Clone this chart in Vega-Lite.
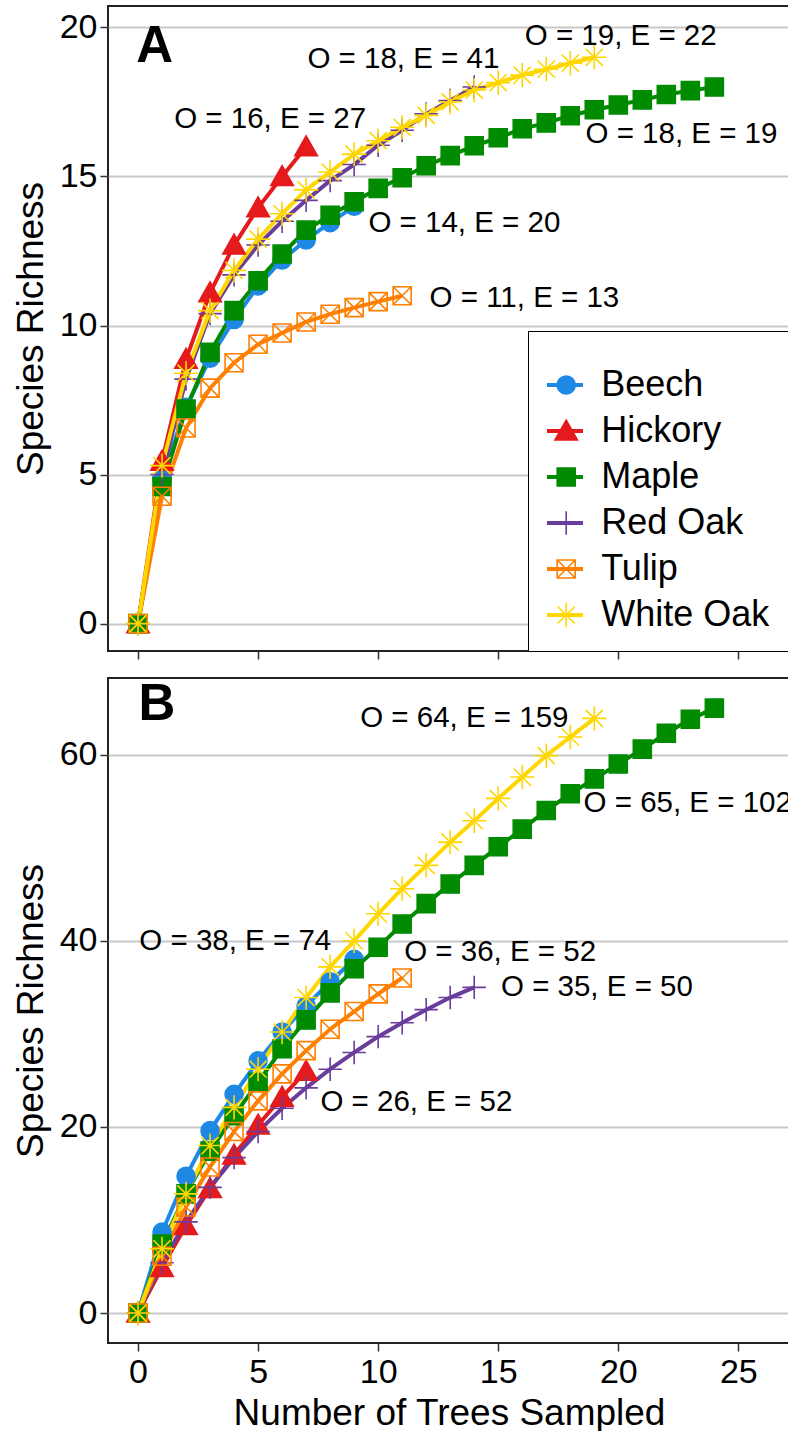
{
  "$schema": "https://vega.github.io/schema/vega-lite/v6.json",
  "padding": {"left": 11, "top": 5, "right": 0, "bottom": 0},
  "spacing": 16,
  "config": {
    "font": "Liberation Sans",
    "view": {"stroke": "#222222", "strokeWidth": 2},
    "axis": {
      "domain": false,
      "tickColor": "#333333",
      "tickWidth": 1.5,
      "tickSize": 8,
      "labelFont": "Liberation Sans",
      "labelFontSize": 34,
      "labelColor": "black",
      "labelPadding": 3,
      "titleFont": "Liberation Sans",
      "titleFontSize": 37,
      "titleFontWeight": "normal",
      "titleColor": "black",
      "gridColor": "#C8C8C8",
      "gridWidth": 2
    },
    "axisY": {"titlePadding": 9},
    "axisX": {"titlePadding": 6, "labelPadding": 4}
  },
  "datasets": {
    "curves": [
      {"panel":"A","species":"Beech","trees":0,"richness":0},
      {"panel":"A","species":"Beech","trees":1,"richness":4.87},
      {"panel":"A","species":"Beech","trees":2,"richness":7.26},
      {"panel":"A","species":"Beech","trees":3,"richness":8.9},
      {"panel":"A","species":"Beech","trees":4,"richness":10.2},
      {"panel":"A","species":"Beech","trees":5,"richness":11.33},
      {"panel":"A","species":"Beech","trees":6,"richness":12.2},
      {"panel":"A","species":"Beech","trees":7,"richness":12.87},
      {"panel":"A","species":"Beech","trees":8,"richness":13.45},
      {"panel":"A","species":"Beech","trees":9,"richness":14.0},
      {"panel":"A","species":"Hickory","trees":0,"richness":0},
      {"panel":"A","species":"Hickory","trees":1,"richness":5.45},
      {"panel":"A","species":"Hickory","trees":2,"richness":8.87},
      {"panel":"A","species":"Hickory","trees":3,"richness":11.1},
      {"panel":"A","species":"Hickory","trees":4,"richness":12.7},
      {"panel":"A","species":"Hickory","trees":5,"richness":13.95},
      {"panel":"A","species":"Hickory","trees":6,"richness":15.0},
      {"panel":"A","species":"Hickory","trees":7,"richness":16.0},
      {"panel":"A","species":"Maple","trees":0,"richness":0},
      {"panel":"A","species":"Maple","trees":1,"richness":4.6},
      {"panel":"A","species":"Maple","trees":2,"richness":7.2},
      {"panel":"A","species":"Maple","trees":3,"richness":9.1},
      {"panel":"A","species":"Maple","trees":4,"richness":10.5},
      {"panel":"A","species":"Maple","trees":5,"richness":11.5},
      {"panel":"A","species":"Maple","trees":6,"richness":12.4},
      {"panel":"A","species":"Maple","trees":7,"richness":13.2},
      {"panel":"A","species":"Maple","trees":8,"richness":13.7},
      {"panel":"A","species":"Maple","trees":9,"richness":14.15},
      {"panel":"A","species":"Maple","trees":10,"richness":14.6},
      {"panel":"A","species":"Maple","trees":11,"richness":14.96},
      {"panel":"A","species":"Maple","trees":12,"richness":15.36},
      {"panel":"A","species":"Maple","trees":13,"richness":15.7},
      {"panel":"A","species":"Maple","trees":14,"richness":16.03},
      {"panel":"A","species":"Maple","trees":15,"richness":16.3},
      {"panel":"A","species":"Maple","trees":16,"richness":16.6},
      {"panel":"A","species":"Maple","trees":17,"richness":16.8},
      {"panel":"A","species":"Maple","trees":18,"richness":17.04},
      {"panel":"A","species":"Maple","trees":19,"richness":17.24},
      {"panel":"A","species":"Maple","trees":20,"richness":17.4},
      {"panel":"A","species":"Maple","trees":21,"richness":17.57},
      {"panel":"A","species":"Maple","trees":22,"richness":17.75},
      {"panel":"A","species":"Maple","trees":23,"richness":17.88},
      {"panel":"A","species":"Maple","trees":24,"richness":18.0},
      {"panel":"A","species":"Red Oak","trees":0,"richness":0},
      {"panel":"A","species":"Red Oak","trees":1,"richness":5.0},
      {"panel":"A","species":"Red Oak","trees":2,"richness":8.2},
      {"panel":"A","species":"Red Oak","trees":3,"richness":10.4},
      {"panel":"A","species":"Red Oak","trees":4,"richness":11.7},
      {"panel":"A","species":"Red Oak","trees":5,"richness":12.7},
      {"panel":"A","species":"Red Oak","trees":6,"richness":13.5},
      {"panel":"A","species":"Red Oak","trees":7,"richness":14.2},
      {"panel":"A","species":"Red Oak","trees":8,"richness":14.86},
      {"panel":"A","species":"Red Oak","trees":9,"richness":15.4},
      {"panel":"A","species":"Red Oak","trees":10,"richness":16.05},
      {"panel":"A","species":"Red Oak","trees":11,"richness":16.55},
      {"panel":"A","species":"Red Oak","trees":12,"richness":17.1},
      {"panel":"A","species":"Red Oak","trees":13,"richness":17.55},
      {"panel":"A","species":"Red Oak","trees":14,"richness":18.0},
      {"panel":"A","species":"Tulip","trees":0,"richness":0},
      {"panel":"A","species":"Tulip","trees":1,"richness":4.27},
      {"panel":"A","species":"Tulip","trees":2,"richness":6.56},
      {"panel":"A","species":"Tulip","trees":3,"richness":7.9},
      {"panel":"A","species":"Tulip","trees":4,"richness":8.75},
      {"panel":"A","species":"Tulip","trees":5,"richness":9.37},
      {"panel":"A","species":"Tulip","trees":6,"richness":9.75},
      {"panel":"A","species":"Tulip","trees":7,"richness":10.12},
      {"panel":"A","species":"Tulip","trees":8,"richness":10.38},
      {"panel":"A","species":"Tulip","trees":9,"richness":10.6},
      {"panel":"A","species":"Tulip","trees":10,"richness":10.8},
      {"panel":"A","species":"Tulip","trees":11,"richness":11.0},
      {"panel":"A","species":"White Oak","trees":0,"richness":0},
      {"panel":"A","species":"White Oak","trees":1,"richness":5.3},
      {"panel":"A","species":"White Oak","trees":2,"richness":8.4},
      {"panel":"A","species":"White Oak","trees":3,"richness":10.5},
      {"panel":"A","species":"White Oak","trees":4,"richness":11.85},
      {"panel":"A","species":"White Oak","trees":5,"richness":12.9},
      {"panel":"A","species":"White Oak","trees":6,"richness":13.75},
      {"panel":"A","species":"White Oak","trees":7,"richness":14.55},
      {"panel":"A","species":"White Oak","trees":8,"richness":15.15},
      {"panel":"A","species":"White Oak","trees":9,"richness":15.75},
      {"panel":"A","species":"White Oak","trees":10,"richness":16.2},
      {"panel":"A","species":"White Oak","trees":11,"richness":16.65},
      {"panel":"A","species":"White Oak","trees":12,"richness":17.05},
      {"panel":"A","species":"White Oak","trees":13,"richness":17.5},
      {"panel":"A","species":"White Oak","trees":14,"richness":17.9},
      {"panel":"A","species":"White Oak","trees":15,"richness":18.15},
      {"panel":"A","species":"White Oak","trees":16,"richness":18.4},
      {"panel":"A","species":"White Oak","trees":17,"richness":18.6},
      {"panel":"A","species":"White Oak","trees":18,"richness":18.8},
      {"panel":"A","species":"White Oak","trees":19,"richness":19.0},
      {"panel":"B","species":"Beech","trees":0,"richness":0},
      {"panel":"B","species":"Beech","trees":1,"richness":8.7},
      {"panel":"B","species":"Beech","trees":2,"richness":14.7},
      {"panel":"B","species":"Beech","trees":3,"richness":19.6},
      {"panel":"B","species":"Beech","trees":4,"richness":23.5},
      {"panel":"B","species":"Beech","trees":5,"richness":27.1},
      {"panel":"B","species":"Beech","trees":6,"richness":30.2},
      {"panel":"B","species":"Beech","trees":7,"richness":33.0},
      {"panel":"B","species":"Beech","trees":8,"richness":35.6},
      {"panel":"B","species":"Beech","trees":9,"richness":38.0},
      {"panel":"B","species":"Hickory","trees":0,"richness":0},
      {"panel":"B","species":"Hickory","trees":1,"richness":4.9},
      {"panel":"B","species":"Hickory","trees":2,"richness":9.4},
      {"panel":"B","species":"Hickory","trees":3,"richness":13.4},
      {"panel":"B","species":"Hickory","trees":4,"richness":17.0},
      {"panel":"B","species":"Hickory","trees":5,"richness":20.2},
      {"panel":"B","species":"Hickory","trees":6,"richness":23.2},
      {"panel":"B","species":"Hickory","trees":7,"richness":26.0},
      {"panel":"B","species":"Maple","trees":0,"richness":0},
      {"panel":"B","species":"Maple","trees":1,"richness":7.4},
      {"panel":"B","species":"Maple","trees":2,"richness":12.8},
      {"panel":"B","species":"Maple","trees":3,"richness":17.4},
      {"panel":"B","species":"Maple","trees":4,"richness":21.2},
      {"panel":"B","species":"Maple","trees":5,"richness":24.8},
      {"panel":"B","species":"Maple","trees":6,"richness":28.4},
      {"panel":"B","species":"Maple","trees":7,"richness":31.5},
      {"panel":"B","species":"Maple","trees":8,"richness":34.4},
      {"panel":"B","species":"Maple","trees":9,"richness":37.0},
      {"panel":"B","species":"Maple","trees":10,"richness":39.3},
      {"panel":"B","species":"Maple","trees":11,"richness":41.8},
      {"panel":"B","species":"Maple","trees":12,"richness":44.0},
      {"panel":"B","species":"Maple","trees":13,"richness":46.1},
      {"panel":"B","species":"Maple","trees":14,"richness":48.1},
      {"panel":"B","species":"Maple","trees":15,"richness":50.1},
      {"panel":"B","species":"Maple","trees":16,"richness":52.0},
      {"panel":"B","species":"Maple","trees":17,"richness":54.0},
      {"panel":"B","species":"Maple","trees":18,"richness":55.8},
      {"panel":"B","species":"Maple","trees":19,"richness":57.4},
      {"panel":"B","species":"Maple","trees":20,"richness":59.0},
      {"panel":"B","species":"Maple","trees":21,"richness":60.6},
      {"panel":"B","species":"Maple","trees":22,"richness":62.3},
      {"panel":"B","species":"Maple","trees":23,"richness":63.8},
      {"panel":"B","species":"Maple","trees":24,"richness":65.0},
      {"panel":"B","species":"Red Oak","trees":0,"richness":0},
      {"panel":"B","species":"Red Oak","trees":1,"richness":5.4},
      {"panel":"B","species":"Red Oak","trees":2,"richness":9.8},
      {"panel":"B","species":"Red Oak","trees":3,"richness":13.5},
      {"panel":"B","species":"Red Oak","trees":4,"richness":16.7},
      {"panel":"B","species":"Red Oak","trees":5,"richness":19.5},
      {"panel":"B","species":"Red Oak","trees":6,"richness":22.0},
      {"panel":"B","species":"Red Oak","trees":7,"richness":24.2},
      {"panel":"B","species":"Red Oak","trees":8,"richness":26.2},
      {"panel":"B","species":"Red Oak","trees":9,"richness":28.0},
      {"panel":"B","species":"Red Oak","trees":10,"richness":29.7},
      {"panel":"B","species":"Red Oak","trees":11,"richness":31.2},
      {"panel":"B","species":"Red Oak","trees":12,"richness":32.6},
      {"panel":"B","species":"Red Oak","trees":13,"richness":33.9},
      {"panel":"B","species":"Red Oak","trees":14,"richness":35.0},
      {"panel":"B","species":"Tulip","trees":0,"richness":0},
      {"panel":"B","species":"Tulip","trees":1,"richness":6.1},
      {"panel":"B","species":"Tulip","trees":2,"richness":11.4},
      {"panel":"B","species":"Tulip","trees":3,"richness":15.7},
      {"panel":"B","species":"Tulip","trees":4,"richness":19.5},
      {"panel":"B","species":"Tulip","trees":5,"richness":22.8},
      {"panel":"B","species":"Tulip","trees":6,"richness":25.7},
      {"panel":"B","species":"Tulip","trees":7,"richness":28.2},
      {"panel":"B","species":"Tulip","trees":8,"richness":30.5},
      {"panel":"B","species":"Tulip","trees":9,"richness":32.4},
      {"panel":"B","species":"Tulip","trees":10,"richness":34.3},
      {"panel":"B","species":"Tulip","trees":11,"richness":36.0},
      {"panel":"B","species":"White Oak","trees":0,"richness":0},
      {"panel":"B","species":"White Oak","trees":1,"richness":6.9},
      {"panel":"B","species":"White Oak","trees":2,"richness":12.8},
      {"panel":"B","species":"White Oak","trees":3,"richness":18.0},
      {"panel":"B","species":"White Oak","trees":4,"richness":22.1},
      {"panel":"B","species":"White Oak","trees":5,"richness":26.2},
      {"panel":"B","species":"White Oak","trees":6,"richness":30.2},
      {"panel":"B","species":"White Oak","trees":7,"richness":33.9},
      {"panel":"B","species":"White Oak","trees":8,"richness":37.2},
      {"panel":"B","species":"White Oak","trees":9,"richness":40.0},
      {"panel":"B","species":"White Oak","trees":10,"richness":42.9},
      {"panel":"B","species":"White Oak","trees":11,"richness":45.6},
      {"panel":"B","species":"White Oak","trees":12,"richness":48.1},
      {"panel":"B","species":"White Oak","trees":13,"richness":50.6},
      {"panel":"B","species":"White Oak","trees":14,"richness":52.9},
      {"panel":"B","species":"White Oak","trees":15,"richness":55.3},
      {"panel":"B","species":"White Oak","trees":16,"richness":57.6},
      {"panel":"B","species":"White Oak","trees":17,"richness":59.9},
      {"panel":"B","species":"White Oak","trees":18,"richness":61.9},
      {"panel":"B","species":"White Oak","trees":19,"richness":63.9}
    ],
    "notes": [
      {"panel":"A","label":"O = 16, E = 27","trees":5.5,"richness":16.93},
      {"panel":"A","label":"O = 18, E = 41","trees":11.05,"richness":18.94},
      {"panel":"A","label":"O = 19, E = 22","trees":20.1,"richness":19.71},
      {"panel":"A","label":"O = 18, E = 19","trees":22.63,"richness":16.43},
      {"panel":"A","label":"O = 14, E = 20","trees":13.59,"richness":13.44},
      {"panel":"A","label":"O = 11, E = 13","trees":16.09,"richness":10.93},
      {"panel":"B","label":"O = 64, E = 159","trees":13.59,"richness":63.94},
      {"panel":"B","label":"O = 65, E = 102","trees":22.89,"richness":54.81},
      {"panel":"B","label":"O = 38, E = 74","trees":4.05,"richness":39.93},
      {"panel":"B","label":"O = 36, E = 52","trees":15.08,"richness":38.85},
      {"panel":"B","label":"O = 35, E = 50","trees":19.11,"richness":35.0},
      {"panel":"B","label":"O = 26, E = 52","trees":11.59,"richness":22.68}
    ],
    "letters": [
      {"panel":"A","letter":"A","trees":0.69,"richness":19.33},
      {"panel":"B","letter":"B","trees":0.79,"richness":65.3}
    ]
  },
  "resolve": {"scale": {"stroke": "independent", "fill": "independent", "shape": "independent"}},
  "vconcat": [
    {
      "width": 682,
      "height": 645,
      "resolve": {"scale": {"stroke": "independent", "fill": "independent", "shape": "independent"}},
      "encoding": {
        "x": {"field": "trees", "type": "quantitative", "scale": {"domain": [-1.25, 27.15], "nice": false, "zero": false},
              "axis": {"values": [0,5,10,15,20,25], "labels": false, "title": null, "grid": false}},
        "y": {"field": "richness", "type": "quantitative", "scale": {"domain": [-0.92, 20.72], "nice": false, "zero": false},
              "axis": {"values": [0,5,10,15,20], "title": "Species Richness", "grid": true}}
      },
      "layer": [
        {
          "data": {"name": "curves"},
          "transform": [{"filter": "datum.panel === 'A'"}],
          "mark": {"type": "line", "strokeWidth": 4},
          "encoding": {
            "stroke": {"field": "species", "type": "nominal",
              "scale": {"domain": ["Beech","Hickory","Maple","Red Oak","Tulip","White Oak"],
                        "range": ["#1E88E5","#E41A1C","#008B00","#6A3D9A","#FF7F00","#FFD700"]},
              "legend": {"orient": "none", "legendX": 420, "legendY": 325, "zindex": 2,
                         "title": "\u00a0", "titleFontSize": 12, "titlePadding": 6,
                         "padding": 18, "symbolType": "M-2,0H2", "symbolSize": 324,
                         "symbolStrokeWidth": 4, "labelFontSize": 36, "labelFont": "Liberation Sans", "labelExpr": "'\u00a0'",
                         "rowPadding": 10, "symbolOffset": 1, "labelOffset": 17}}
          }
        },
        {
          "data": {"name": "curves"},
          "transform": [{"filter": "datum.panel === 'A'"}],
          "mark": {"type": "point", "filled": true, "size": 324, "strokeWidth": 1.6, "opacity": 1},
          "encoding": {
            "stroke": {"field": "species", "type": "nominal",
              "scale": {"domain": ["Beech","Hickory","Maple","Red Oak","Tulip","White Oak"],
                        "range": ["#1E88E5","#E41A1C","#008B00","#6A3D9A","#FF7F00","#FFD700"]},
              "legend": {"orient": "none", "legendX": 420, "legendY": 325, "zindex": 1, "strokeColor": "black", "fillColor": "white",
                         "title": "\u00a0", "titleFontSize": 12, "titlePadding": 6,
                         "padding": 18, "symbolSize": 324, "symbolStrokeWidth": 1.6, "labelFontSize": 36, "labelFont": "Liberation Sans",
                         "labelColor": "black", "labelLimit": 400, "rowPadding": 10, "symbolOffset": 2.2, "labelOffset": 17}},
            "fill": {"field": "species", "type": "nominal",
              "scale": {"domain": ["Beech","Hickory","Maple","Red Oak","Tulip","White Oak"],
                        "range": ["#1E88E5","#E41A1C","#008B00","transparent","transparent","transparent"]},
              "legend": {"orient": "none", "legendX": 420, "legendY": 325, "zindex": 1, "strokeColor": "black", "fillColor": "white",
                         "title": "\u00a0", "titleFontSize": 12, "titlePadding": 6,
                         "padding": 18, "symbolSize": 324, "symbolStrokeWidth": 1.6, "labelFontSize": 36, "labelFont": "Liberation Sans",
                         "labelColor": "black", "labelLimit": 400, "rowPadding": 10, "symbolOffset": 2.2, "labelOffset": 17}},
            "shape": {"field": "species", "type": "nominal",
              "scale": {"domain": ["Beech","Hickory","Maple","Red Oak","Tulip","White Oak"],
                        "range": ["circle","M0,-1.2L1.25,1L-1.25,1Z","square","M-1.3,0H1.3M0,-1.3V1.3","M-1,-1H1V1H-1ZM-1,-1L1,1M1,-1L-1,1","M-1.35,0H1.35M0,-1.35V1.35M-0.95,-0.95L0.95,0.95M0.95,-0.95L-0.95,0.95"]},
              "legend": {"orient": "none", "legendX": 420, "legendY": 325, "zindex": 1, "strokeColor": "black", "fillColor": "white",
                         "title": "\u00a0", "titleFontSize": 12, "titlePadding": 6,
                         "padding": 18, "symbolSize": 324, "symbolStrokeWidth": 1.6, "labelFontSize": 36, "labelFont": "Liberation Sans",
                         "labelColor": "black", "labelLimit": 400, "rowPadding": 10, "symbolOffset": 2.2, "labelOffset": 17}}
          }
        },
        {
          "data": {"name": "notes"},
          "transform": [{"filter": "datum.panel === 'A'"}],
          "mark": {"type": "text", "fontSize": 29.5, "font": "Liberation Sans", "align": "center", "baseline": "middle", "color": "black", "clip": true},
          "encoding": {"text": {"field": "label"}}
        },
        {
          "data": {"name": "letters"},
          "transform": [{"filter": "datum.panel === 'A'"}],
          "mark": {"type": "text", "fontSize": 51, "fontWeight": "bold", "font": "Liberation Sans", "align": "center", "baseline": "middle", "color": "black"},
          "encoding": {"text": {"field": "letter"}}
        }
      ]
    },
    {
      "width": 682,
      "height": 665,
      "resolve": {"scale": {"stroke": "independent", "fill": "independent", "shape": "independent"}},
      "encoding": {
        "x": {"field": "trees", "type": "quantitative", "scale": {"domain": [-1.25, 27.15], "nice": false, "zero": false},
              "axis": {"values": [0,5,10,15,20,25], "title": "Number of Trees Sampled", "grid": false}},
        "y": {"field": "richness", "type": "quantitative", "scale": {"domain": [-3.22, 68.24], "nice": false, "zero": false},
              "axis": {"values": [0,20,40,60], "title": "Species Richness", "grid": true}}
      },
      "layer": [
        {
          "data": {"name": "curves"},
          "transform": [{"filter": "datum.panel === 'B'"}],
          "mark": {"type": "line", "strokeWidth": 4},
          "encoding": {
            "stroke": {"field": "species", "type": "nominal", "legend": null,
              "scale": {"domain": ["Beech","Hickory","Maple","Red Oak","Tulip","White Oak"],
                        "range": ["#1E88E5","#E41A1C","#008B00","#6A3D9A","#FF7F00","#FFD700"]}}
          }
        },
        {
          "data": {"name": "curves"},
          "transform": [{"filter": "datum.panel === 'B'"}],
          "mark": {"type": "point", "filled": true, "size": 324, "strokeWidth": 1.6, "opacity": 1},
          "encoding": {
            "stroke": {"field": "species", "type": "nominal", "legend": null,
              "scale": {"domain": ["Beech","Hickory","Maple","Red Oak","Tulip","White Oak"],
                        "range": ["#1E88E5","#E41A1C","#008B00","#6A3D9A","#FF7F00","#FFD700"]}},
            "fill": {"field": "species", "type": "nominal", "legend": null,
              "scale": {"domain": ["Beech","Hickory","Maple","Red Oak","Tulip","White Oak"],
                        "range": ["#1E88E5","#E41A1C","#008B00","transparent","transparent","transparent"]}},
            "shape": {"field": "species", "type": "nominal", "legend": null,
              "scale": {"domain": ["Beech","Hickory","Maple","Red Oak","Tulip","White Oak"],
                        "range": ["circle","M0,-1.2L1.25,1L-1.25,1Z","square","M-1.3,0H1.3M0,-1.3V1.3","M-1,-1H1V1H-1ZM-1,-1L1,1M1,-1L-1,1","M-1.35,0H1.35M0,-1.35V1.35M-0.95,-0.95L0.95,0.95M0.95,-0.95L-0.95,0.95"]}}
          }
        },
        {
          "data": {"name": "notes"},
          "transform": [{"filter": "datum.panel === 'B'"}],
          "mark": {"type": "text", "fontSize": 29.5, "font": "Liberation Sans", "align": "center", "baseline": "middle", "color": "black", "clip": true},
          "encoding": {"text": {"field": "label"}}
        },
        {
          "data": {"name": "letters"},
          "transform": [{"filter": "datum.panel === 'B'"}],
          "mark": {"type": "text", "fontSize": 51, "fontWeight": "bold", "font": "Liberation Sans", "align": "center", "baseline": "middle", "color": "black"},
          "encoding": {"text": {"field": "letter"}}
        }
      ]
    }
  ]
}
